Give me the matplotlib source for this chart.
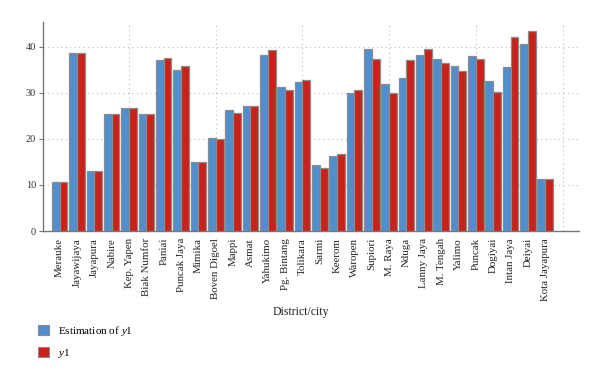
import matplotlib
matplotlib.use("Agg")
import matplotlib.pyplot as plt
import numpy as np
from matplotlib.patches import Patch

plt.rcParams['font.family'] = ['Liberation Serif', 'DejaVu Serif']
plt.rcParams['mathtext.fontset'] = 'custom'
plt.rcParams['mathtext.rm'] = 'Liberation Serif'
plt.rcParams['mathtext.it'] = 'Liberation Serif:italic'

districts = ["Merauke", "Jayawijaya", "Jayapura", "Nabire", "Kep. Yapen", "Biak Numfor",
             "Paniai", "Puncak Jaya", "Mimika", "Boven Digoel", "Mappi", "Asmat",
             "Yahukimo", "Pg. Bintang", "Tolikara", "Sarmi", "Keerom", "Waropen",
             "Supiori", "M. Raya", "Nduga", "Lanny Jaya", "M. Tengah", "Yalimo",
             "Puncak", "Dogiyai", "Intan Jaya", "Deiyai", "Kota Jayapura"]
estimation_y1 = [10.7, 38.6, 13.0, 25.4, 26.7, 25.4, 37.1, 34.9, 14.9, 20.2, 26.2, 27.1,
                 38.3, 31.3, 32.4, 14.3, 16.4, 30.0, 39.6, 32.0, 33.2, 38.3, 37.4, 35.9,
                 38.0, 32.5, 35.7, 40.7, 11.4]
y1 = [10.7, 38.6, 13.0, 25.4, 26.7, 25.4, 37.5, 35.9, 14.9, 20.0, 25.7, 27.1,
      39.3, 30.6, 32.8, 13.6, 16.7, 30.7, 37.4, 29.9, 37.2, 39.6, 36.4, 34.8,
      37.3, 30.3, 42.1, 43.5, 11.3]
yticks = [0, 10, 20, 30, 40]

fig = plt.figure(figsize=(6, 3.78), dpi=100)
ax = fig.add_axes([43/600, 1-231/378, (579-43)/600, (231-22)/378])

x = np.arange(len(districts))
w = 0.45
blue = '#4f8ed0'
red = '#c8231b'
edge = '#8c8c8c'
ax.bar(x - w/2, estimation_y1, w, color=blue, edgecolor=edge, linewidth=0.9, zorder=3)
ax.bar(x + w/2, y1, w, color=red, edgecolor=edge, linewidth=0.9, zorder=3)

ax.set_xlim(-0.96, 29.95)
ax.set_ylim(0, 45.4)
ax.set_yticks(yticks)
ax.set_yticklabels([str(t) for t in yticks], fontsize=7.5, color='#333333')
ax.set_xticks(x)
ax.set_xticklabels(districts, rotation=90, fontsize=7.8, color='#222222')
ax.tick_params(axis='x', length=0, pad=5)
ax.tick_params(axis='y', length=3, width=0.8, color='#777777', pad=2)

for yv in yticks[1:]:
    ax.axhline(yv, color='#bbbbbb', linestyle=(0, (1, 3)), linewidth=0.8, zorder=1)
for xv in [4, 9, 14, 19, 24, 29]:
    ax.axvline(xv, color='#bbbbbb', linestyle=(0, (1, 3)), linewidth=0.8, zorder=1)

for s in ['top', 'right']:
    ax.spines[s].set_visible(False)
for s in ['left', 'bottom']:
    ax.spines[s].set_color('#777777')
    ax.spines[s].set_linewidth(1.0)

fig.text(301/600, 1-312/378, 'District/city', ha='center', va='center', fontsize=8.5, color='#222222')

handles = [Patch(facecolor=blue, edgecolor=edge, linewidth=0.8),
           Patch(facecolor=red, edgecolor=edge, linewidth=0.8)]
fig.legend(handles, ['Estimation of $y$1', '$y$1'], loc='upper left',
           bbox_to_anchor=(36/600, 1-322/378), frameon=False, fontsize=8,
           handlelength=1.0, handleheight=1.0, labelspacing=0.75, handletextpad=0.8,
           borderaxespad=0, borderpad=0.2)

fig.savefig('out.png', dpi=100)
